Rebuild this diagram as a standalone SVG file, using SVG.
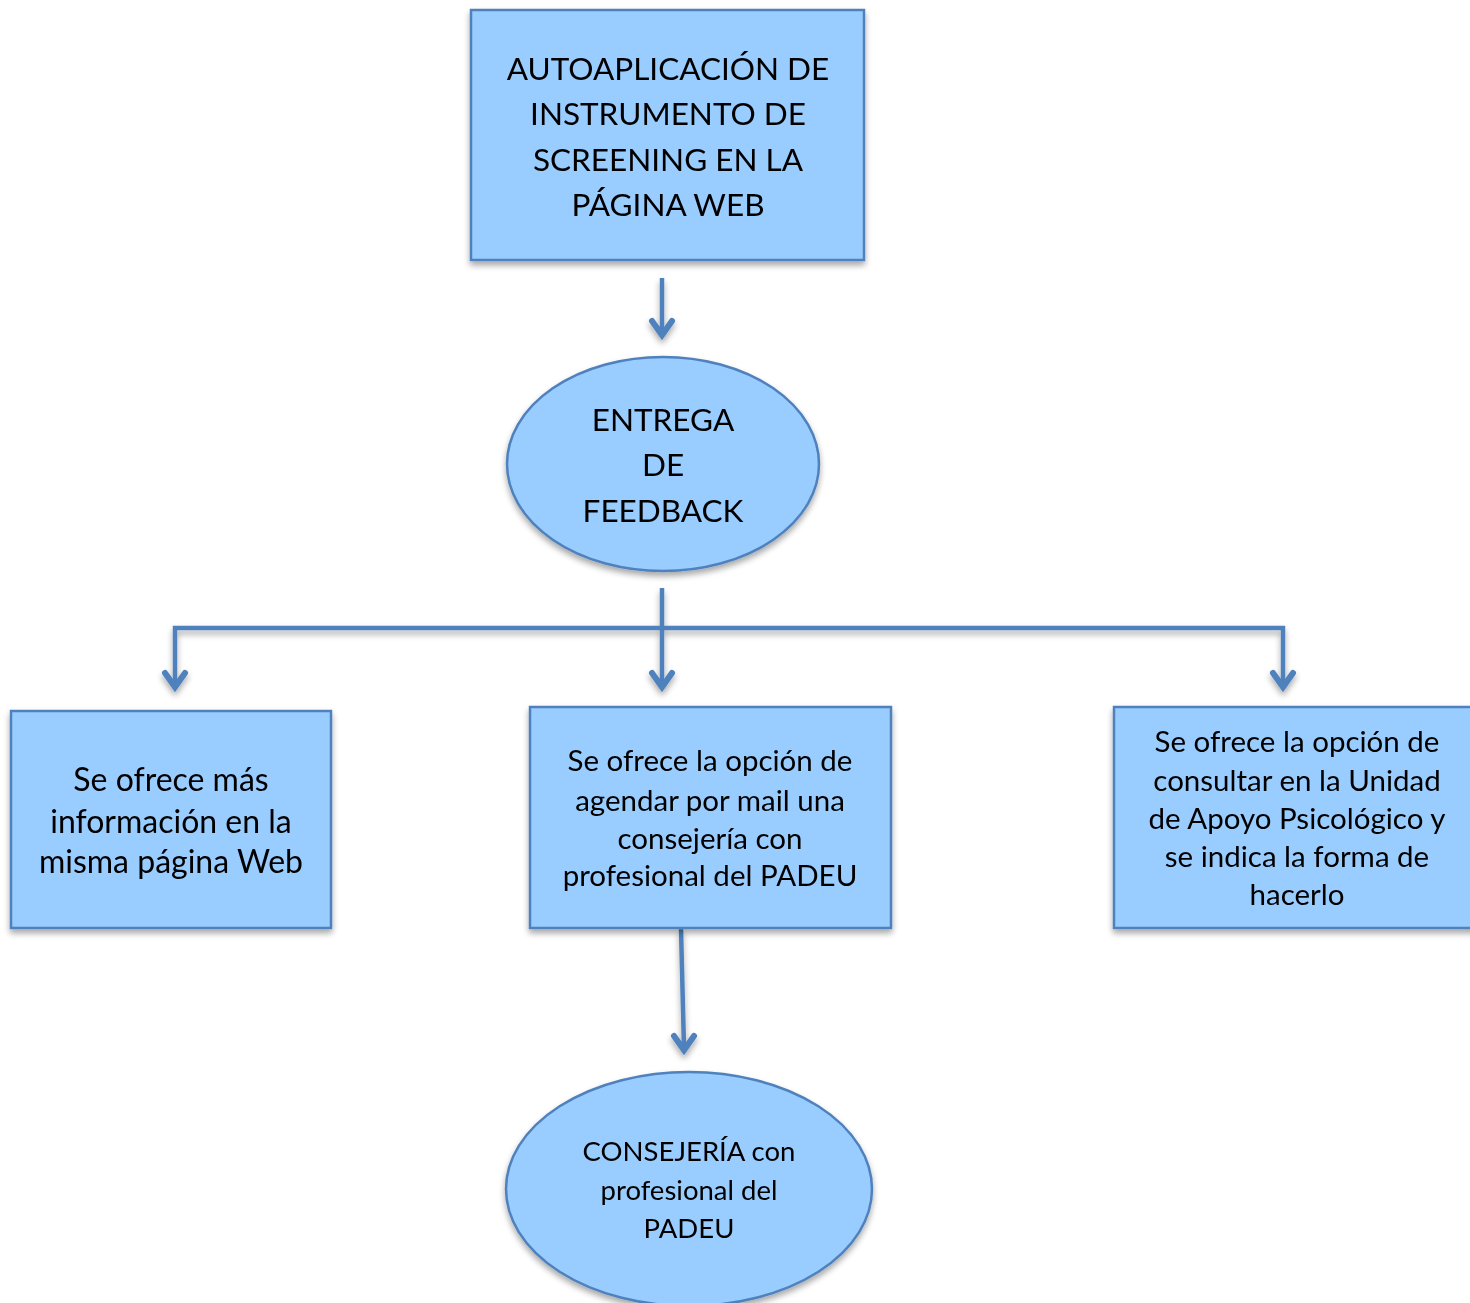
<svg xmlns="http://www.w3.org/2000/svg" width="1470" height="1303" viewBox="0 0 1470 1303">
<style>
.n{fill:#99CCFF;stroke:#4F81BD;stroke-width:2.5}
.t{font-family:Lato,"Open Sans","Liberation Sans",sans-serif;fill:#000;text-anchor:middle;dominant-baseline:central}
.c{fill:none;stroke:#4F81BD;stroke-width:4.5;stroke-linecap:butt}
.h{fill:none;stroke:#4F81BD;stroke-width:6;stroke-linecap:round;stroke-linejoin:miter}
</style>
<defs>
<filter id="sh" x="-10%" y="-10%" width="120%" height="125%">
<feGaussianBlur in="SourceAlpha" stdDeviation="3"/>
<feOffset dx="0" dy="4" result="b"/>
<feComponentTransfer><feFuncA type="linear" slope="0.35"/></feComponentTransfer>
<feMerge><feMergeNode/><feMergeNode in="SourceGraphic"/></feMerge>
</filter>
</defs>
<g id="connectors" filter="url(#sh)">
<line class="c" x1="662" y1="278" x2="662" y2="334"/>
<polyline class="h" points="652,321 662,335 672,321"/>
<line class="c" x1="662" y1="588" x2="662" y2="686"/>
<polyline class="h" points="652,673 662,687 672,673"/>
<polyline class="c" points="175,686 175,628 1283,628 1283,686"/>
<polyline class="h" points="165,673 175,687 185,673"/>
<polyline class="h" points="1273,673 1283,687 1293,673"/>
<line class="c" x1="681" y1="929" x2="684" y2="1048"/>
<polyline class="h" points="674,1036 684,1050 694,1036"/>
</g>
<g id="n1" filter="url(#sh)">
<rect class="n" x="471" y="10" width="393" height="250"/>
<text class="t" font-size="31.5" x="668" y="68">AUTOAPLICACIÓN DE</text>
<text class="t" font-size="31.5" x="668" y="113">INSTRUMENTO DE</text>
<text class="t" font-size="31.5" x="668" y="159">SCREENING EN LA</text>
<text class="t" font-size="31.5" x="668" y="204">PÁGINA WEB</text>
</g>
<g id="n2" filter="url(#sh)">
<ellipse class="n" cx="663" cy="464" rx="156" ry="107"/>
<text class="t" font-size="31.5" x="663" y="419">ENTREGA</text>
<text class="t" font-size="31.5" x="663" y="464">DE</text>
<text class="t" font-size="31.5" x="663" y="510">FEEDBACK</text>
</g>
<g id="n3" filter="url(#sh)">
<rect class="n" x="11" y="711" width="320" height="217"/>
<text class="t" font-size="32" x="171" y="778">Se ofrece más</text>
<text class="t" font-size="32" x="171" y="820">información en la</text>
<text class="t" font-size="32" x="171" y="860">misma página Web</text>
</g>
<g id="n4" filter="url(#sh)">
<rect class="n" x="530" y="707" width="361" height="221"/>
<text class="t" font-size="29.5" x="710" y="759">Se ofrece la opción de</text>
<text class="t" font-size="29.5" x="710" y="799">agendar por mail una</text>
<text class="t" font-size="29.5" x="710" y="837">consejería con</text>
<text class="t" font-size="29.5" x="710" y="874">profesional del PADEU</text>
</g>
<g id="n5" filter="url(#sh)">
<rect class="n" x="1114" y="707" width="370" height="221"/>
<text class="t" font-size="29.5" x="1297" y="740">Se ofrece la opción de</text>
<text class="t" font-size="29.5" x="1297" y="779">consultar en la Unidad</text>
<text class="t" font-size="29.5" x="1297" y="817">de Apoyo Psicológico y</text>
<text class="t" font-size="29.5" x="1297" y="855">se indica la forma de</text>
<text class="t" font-size="29.5" x="1297" y="893">hacerlo</text>
</g>
<g id="n6" filter="url(#sh)">
<ellipse class="n" cx="689" cy="1189" rx="183" ry="117"/>
<text class="t" font-size="27.5" x="689" y="1150">CONSEJERÍA con</text>
<text class="t" font-size="27.5" x="689" y="1189">profesional del</text>
<text class="t" font-size="27.5" x="689" y="1227">PADEU</text>
</g>
</svg>
